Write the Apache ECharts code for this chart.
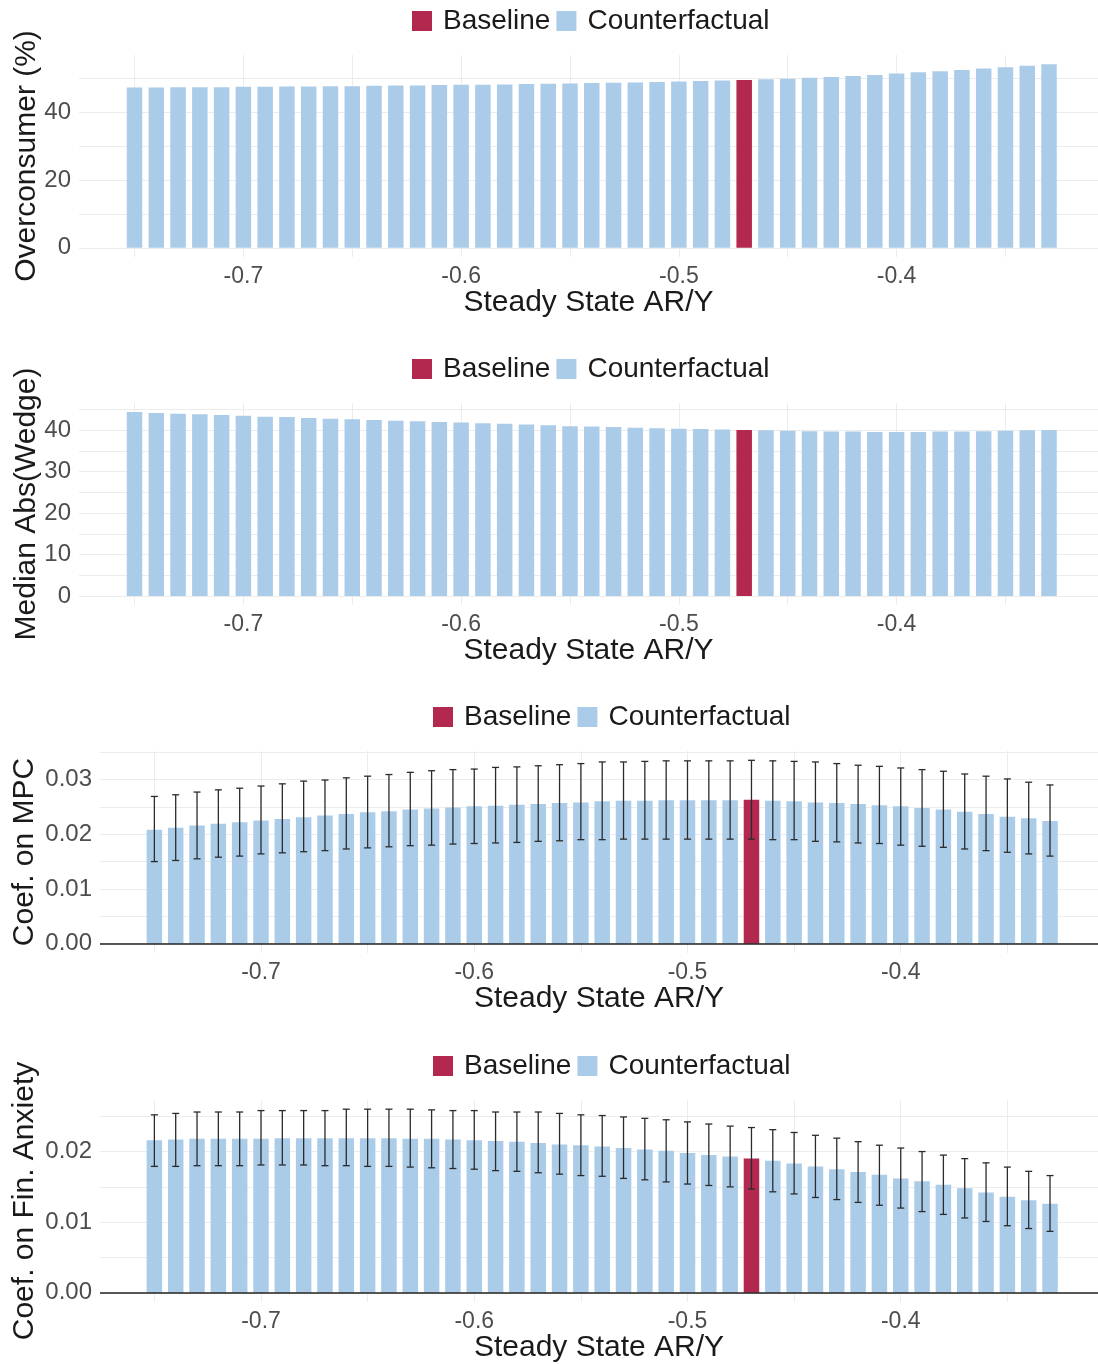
<!DOCTYPE html>
<html lang="en">
<head>
  <meta charset="UTF-8">
  <title>Steady State AR/Y counterfactuals</title>
  <script src="https://cdn.jsdelivr.net/npm/echarts@6/dist/echarts.min.js"></script>
  <style>
    body { margin: 0; background: #fff; }
    #chart { width: 1098px; height: 1364px; }
  </style>
</head>
<body>
  <div id="chart"></div>
  <script>
    // steady state AR/Y grid (x axis of every panel)
    const arY = [-0.75, -0.74, -0.73, -0.72, -0.71, -0.70, -0.69, -0.68, -0.67, -0.66,
      -0.65, -0.64, -0.63, -0.62, -0.61, -0.60, -0.59, -0.58, -0.57, -0.56,
      -0.55, -0.54, -0.53, -0.52, -0.51, -0.50, -0.49, -0.48, -0.47, -0.46,
      -0.45, -0.44, -0.43, -0.42, -0.41, -0.40, -0.39, -0.38, -0.37, -0.36,
      -0.35, -0.34, -0.33]
    const baselineX = -0.47

    const overconsumer = [47.4, 47.4, 47.5, 47.5, 47.5, 47.6, 47.6, 47.7, 47.7, 47.8,
      47.8, 47.9, 48.0, 48.0, 48.1, 48.2, 48.2, 48.3, 48.4, 48.5,
      48.6, 48.7, 48.8, 48.9, 49.0, 49.2, 49.3, 49.5, 49.6, 49.8,
      50.0, 50.3, 50.5, 50.8, 51.1, 51.5, 51.9, 52.2, 52.6, 53.0,
      53.4, 53.8, 54.3]

    const medianWedge = [44.4, 44.2, 44.0, 43.9, 43.7, 43.5, 43.3, 43.2, 43.0, 42.8,
      42.7, 42.5, 42.3, 42.2, 42.0, 41.9, 41.7, 41.6, 41.4, 41.2,
      41.0, 40.9, 40.8, 40.6, 40.5, 40.4, 40.3, 40.2, 40.1, 40.0,
      39.9, 39.8, 39.7, 39.7, 39.6, 39.6, 39.6, 39.7, 39.7, 39.8,
      39.9, 40.0, 40.1]

    const mpcCoef = [0.0208, 0.0212, 0.0216, 0.0219, 0.0222, 0.0225, 0.0228, 0.0231, 0.0234, 0.0237,
      0.0240, 0.0242, 0.0245, 0.0247, 0.0249, 0.0251, 0.0252, 0.0254, 0.0255, 0.0257,
      0.0258, 0.0260, 0.0261, 0.0261, 0.0262, 0.0262, 0.0262, 0.0262, 0.0263, 0.0261,
      0.0260, 0.0258, 0.0257, 0.0255, 0.0253, 0.0251, 0.0248, 0.0245, 0.0241, 0.0237,
      0.0232, 0.0229, 0.0224]
    const mpcLow = [0.0150, 0.0152, 0.0155, 0.0158, 0.0160, 0.0164, 0.0166, 0.0168, 0.0170, 0.0173,
      0.0175, 0.0177, 0.0179, 0.0180, 0.0182, 0.0183, 0.0184, 0.0185, 0.0187, 0.0188,
      0.0190, 0.0190, 0.0191, 0.0191, 0.0191, 0.0191, 0.0191, 0.0191, 0.0191, 0.0190,
      0.0190, 0.0187, 0.0186, 0.0184, 0.0183, 0.0180, 0.0178, 0.0176, 0.0173, 0.0170,
      0.0167, 0.0164, 0.0160]
    const mpcHigh = [0.0269, 0.0272, 0.0277, 0.0281, 0.0284, 0.0288, 0.0292, 0.0297, 0.0299, 0.0303,
      0.0306, 0.0309, 0.0313, 0.0316, 0.0318, 0.0319, 0.0322, 0.0323, 0.0325, 0.0327,
      0.0329, 0.0332, 0.0332, 0.0333, 0.0334, 0.0334, 0.0334, 0.0334, 0.0335, 0.0334,
      0.0333, 0.0332, 0.0329, 0.0326, 0.0324, 0.0321, 0.0318, 0.0315, 0.0310, 0.0306,
      0.0301, 0.0295, 0.0290]

    const anxCoef = [0.0216, 0.0217, 0.0218, 0.0218, 0.0218, 0.0218, 0.0219, 0.0219, 0.0219, 0.0219,
      0.0219, 0.0219, 0.0218, 0.0218, 0.0217, 0.0216, 0.0215, 0.0214, 0.0212, 0.0210,
      0.0209, 0.0207, 0.0205, 0.0203, 0.0201, 0.0198, 0.0195, 0.0193, 0.0190, 0.0187,
      0.0183, 0.0179, 0.0175, 0.0171, 0.0167, 0.0162, 0.0158, 0.0153, 0.0148, 0.0142,
      0.0136, 0.0131, 0.0126]
    const anxLow = [0.0179, 0.0179, 0.0180, 0.0180, 0.0180, 0.0181, 0.0181, 0.0181, 0.0180, 0.0180,
      0.0179, 0.0179, 0.0178, 0.0177, 0.0176, 0.0175, 0.0173, 0.0172, 0.0170, 0.0168,
      0.0166, 0.0165, 0.0162, 0.0160, 0.0157, 0.0154, 0.0152, 0.0150, 0.0147, 0.0143,
      0.0140, 0.0135, 0.0132, 0.0128, 0.0124, 0.0120, 0.0115, 0.0111, 0.0106, 0.0101,
      0.0095, 0.0091, 0.0087]
    const anxHigh = [0.0252, 0.0254, 0.0256, 0.0256, 0.0256, 0.0258, 0.0258, 0.0258, 0.0258, 0.0260,
      0.0260, 0.0260, 0.0260, 0.0259, 0.0258, 0.0258, 0.0256, 0.0256, 0.0256, 0.0254,
      0.0252, 0.0251, 0.0249, 0.0247, 0.0245, 0.0242, 0.0239, 0.0236, 0.0234, 0.0231,
      0.0227, 0.0223, 0.0219, 0.0214, 0.0209, 0.0205, 0.0200, 0.0195, 0.0190, 0.0184,
      0.0178, 0.0172, 0.0166]

    const xTicks = [-0.75, -0.7, -0.65, -0.6, -0.55, -0.5, -0.45, -0.4, -0.35]
    const xLabels = [-0.7, -0.6, -0.5, -0.4]

    const BLUE = '#abcce8'
    const RED = '#b2284f'
    const GRIDC = '#ececec'
    const FONT = 'Liberation Sans'

    // one entry per panel: y title, values, axis range, grid/label ticks
    const panels = [
      {name: 'Overconsumer (%)', vals: overconsumer, min: -2.7, max: 57.0, ticks: [0, 10, 20, 30, 40, 50], labels: [0, 20, 40], left: 79, top: 55, digits: 0},
      {name: 'Median Abs(Wedge)', vals: medianWedge, min: -2.2, max: 46.6, ticks: [0, 5, 10, 15, 20, 25, 30, 35, 40, 45], labels: [0, 10, 20, 30, 40], left: 79, top: 403, digits: 0},
      {name: 'Coef. on MPC', vals: mpcCoef, low: mpcLow, high: mpcHigh, min: -0.0017, max: 0.0352, ticks: [0, 0.005, 0.01, 0.015, 0.02, 0.025, 0.03, 0.035], labels: [0, 0.01, 0.02, 0.03], left: 100, top: 751, digits: 2, zeroLine: true},
      {name: 'Coef. on Fin. Anxiety', vals: anxCoef, low: anxLow, high: anxHigh, min: -0.0013, max: 0.0273, ticks: [0, 0.005, 0.01, 0.015, 0.02, 0.025], labels: [0, 0.01, 0.02], left: 100, top: 1100, digits: 2, zeroLine: true}
    ]

    const grid = [], xAxis = [], yAxis = [], legend = [], series = []

    panels.forEach((p, i) => {
      grid.push({left: p.left, right: 0, top: p.top, height: 202, containLabel: false, outerBoundsMode: 'none'})
      legend.push({
        data: ['Baseline', 'Counterfactual'],
        left: p.left + 328, top: p.top - 53,
        icon: 'rect', itemWidth: 20, itemHeight: 20, itemGap: 6,
        selectedMode: false,
        textStyle: {fontFamily: FONT, fontSize: 28, color: '#1a1a1a', padding: [0, 0, 0, 6]}
      })
      xAxis.push({
        type: 'value', gridIndex: i, min: -0.7755, max: -0.3075,
        name: 'Steady State AR/Y', nameLocation: 'middle', nameGap: 31, nameMoveOverlap: false,
        nameTextStyle: {fontFamily: FONT, fontSize: 30, color: '#1a1a1a'},
        axisLine: {show: false},
        axisTick: {show: false, customValues: xTicks},
        axisLabel: {customValues: xLabels, margin: 8, fontFamily: FONT, fontSize: 23, color: '#4d4d4d'},
        splitLine: {show: true, lineStyle: {color: GRIDC, width: 1}}
      })
      yAxis.push({
        type: 'value', gridIndex: i, min: p.min, max: p.max,
        name: p.name, nameLocation: 'middle', nameGap: p.digits ? 60 : 37, nameMoveOverlap: false,
        nameTextStyle: {fontFamily: FONT, fontSize: 30, color: '#1a1a1a'},
        axisLine: {show: false},
        axisTick: {show: false, customValues: p.ticks},
        axisLabel: {customValues: p.labels, margin: 8, fontFamily: FONT, fontSize: 24, color: '#4d4d4d',
          formatter: v => v.toFixed(p.digits)},
        splitLine: {show: true, lineStyle: {color: GRIDC, width: 1}}
      })

      const cfData = [], baseData = []
      arY.forEach((x, k) => {
        if (Math.abs(x - baselineX) < 1e-9) baseData.push([x, p.vals[k]])
        else cfData.push([x, p.vals[k]])
      })
      const bar = {
        type: 'bar', xAxisIndex: i, yAxisIndex: i, barWidth: 15.5, barGap: '-100%',
        silent: true
      }
      series.push(Object.assign({}, bar, {
        name: 'Counterfactual', data: cfData, itemStyle: {color: BLUE},
        markLine: p.zeroLine ? {
          silent: true, symbol: 'none', label: {show: false},
          lineStyle: {color: '#222', width: 1.5, type: 'solid'},
          data: [{yAxis: 0}]
        } : undefined
      }))
      series.push(Object.assign({}, bar, {name: 'Baseline', data: baseData, itemStyle: {color: RED}}))

      if (p.low) {
        series.push({
          type: 'custom', name: 'err' + i, xAxisIndex: i, yAxisIndex: i, silent: true, z: 5,
          data: arY.map((x, k) => [x, p.low[k], p.high[k]]),
          renderItem: (params, api) => {
            const lo = api.coord([api.value(0), api.value(1)])
            const hi = api.coord([api.value(0), api.value(2)])
            const hw = 3.5
            const st = {stroke: '#2b2b2b', lineWidth: 1.3}
            return {
              type: 'group',
              children: [
                {type: 'line', shape: {x1: lo[0], y1: lo[1], x2: hi[0], y2: hi[1]}, style: st},
                {type: 'line', shape: {x1: lo[0] - hw, y1: lo[1], x2: lo[0] + hw, y2: lo[1]}, style: st},
                {type: 'line', shape: {x1: hi[0] - hw, y1: hi[1], x2: hi[0] + hw, y2: hi[1]}, style: st}
              ]
            }
          }
        })
      }
    })

    const chart = echarts.init(document.getElementById('chart'))
    chart.setOption({
      animation: false,
      textStyle: {fontFamily: FONT},
      grid, xAxis, yAxis, legend, series
    })
  </script>
</body>
</html>
